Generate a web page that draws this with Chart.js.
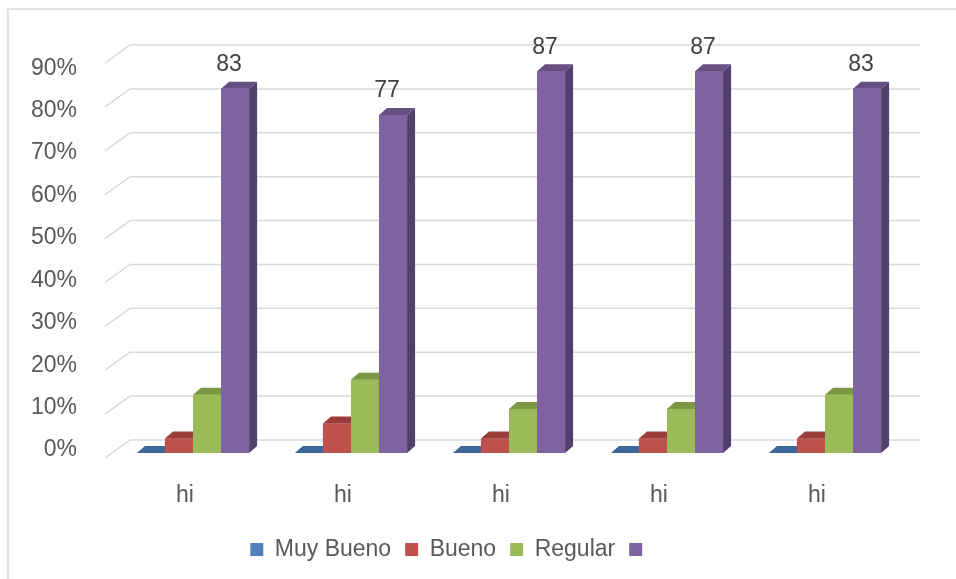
<!DOCTYPE html>
<html>
<head>
<meta charset="utf-8">
<title>Resultados</title>
<script src="https://cdn.jsdelivr.net/npm/chart.js@4.4.1/dist/chart.umd.min.js"></script>
<style>
  html, body { margin: 0; padding: 0; background: #fff; }
  #wrap { width: 956px; height: 579px; position: relative; }
</style>
</head>
<body>
<div id="wrap"><canvas id="chart"></canvas></div>
<script>
const categories = ["hi", "hi", "hi", "hi", "hi"];
const seriesNames = ["Muy Bueno", "Bueno", "Regular", ""];
const muyBueno = [0, 0, 0, 0, 0];
const bueno = [3.3, 6.7, 3.3, 3.3, 3.3];
const regular = [13.3, 16.7, 10, 10, 13.3];
const otros = [83, 77, 87, 87, 83];
const yTicks = [0, 10, 20, 30, 40, 50, 60, 70, 80, 90];

// fake 3D: depth of each bar, and where the walls sit relative to the bar plane
const BAR_DX = 8, BAR_DY = -7;
const BACK_DX = 16, BACK_DY = -13;
const FRONT_DX = -9, FRONT_DY = 5;

Chart.defaults.font.family = "'Liberation Sans', Arial, sans-serif";
Chart.defaults.font.size = 23;
Chart.defaults.color = "#595959";

const wallsPlugin = {
    id: "walls",
    beforeDraw(chart) {
        const ctx = chart.ctx;
        ctx.save();
        ctx.fillStyle = "#ffffff";
        ctx.fillRect(0, 0, chart.width, chart.height);
        // outer frame, runs off the right and bottom edges
        ctx.strokeStyle = "#d9d9d9";
        ctx.lineWidth = 1.5;
        ctx.beginPath();
        ctx.moveTo(8, chart.height + 5);
        ctx.lineTo(8, 9);
        ctx.lineTo(chart.width + 5, 9);
        ctx.stroke();
        ctx.restore();
    },
    beforeDatasetsDraw(chart) {
        const { ctx, chartArea } = chart;
        const y = chart.scales.y;
        ctx.save();
        ctx.strokeStyle = "#d9d9d9";
        ctx.lineWidth = 1.5;
        yTicks.forEach(v => {
            const py = y.getPixelForValue(v);
            ctx.beginPath();
            ctx.moveTo(chartArea.left + FRONT_DX, py + FRONT_DY);
            ctx.lineTo(chartArea.left + BACK_DX, py + BACK_DY);
            ctx.lineTo(chartArea.right + BACK_DX, py + BACK_DY);
            ctx.stroke();
        });
        ctx.restore();
    }
};

const bars3dPlugin = {
    id: "bars3d",
    afterDatasetsDraw(chart) {
        const ctx = chart.ctx;
        const datasets = chart.data.datasets;
        ctx.save();
        // paint group by group, left to right, so each bar hides the side of the one before
        for (let i = 0; i < categories.length; i++) {
            datasets.forEach((ds, d) => {
                const bar = chart.getDatasetMeta(d).data[i];
                const { x, y, base, width } = bar.getProps(["x", "y", "base", "width"], true);
                const l = x - width / 2, r = x + width / 2;
                const t = Math.min(y, base), b = Math.max(y, base);

                ctx.fillStyle = ds.backgroundColor;
                ctx.fillRect(l, t, width, b - t);

                ctx.fillStyle = ds.sideColor;
                ctx.beginPath();
                ctx.moveTo(r, t);
                ctx.lineTo(r + BAR_DX, t + BAR_DY);
                ctx.lineTo(r + BAR_DX, b + BAR_DY);
                ctx.lineTo(r, b);
                ctx.closePath();
                ctx.fill();

                ctx.fillStyle = ds.topColor;
                ctx.beginPath();
                ctx.moveTo(l, t);
                ctx.lineTo(l + BAR_DX, t + BAR_DY);
                ctx.lineTo(r + BAR_DX, t + BAR_DY);
                ctx.lineTo(r, t);
                ctx.closePath();
                ctx.fill();
            });
        }

        // value labels
        ctx.fillStyle = "#404040";
        ctx.font = "23px 'Liberation Sans', Arial, sans-serif";
        ctx.textAlign = "center";
        ctx.textBaseline = "middle";
        datasets.forEach((ds, d) => {
            if (!ds.showValues) return;
            chart.getDatasetMeta(d).data.forEach((bar, i) => {
                ctx.fillText(String(ds.data[i]), bar.x - 6, bar.y - 24);
            });
        });
        ctx.restore();
    }
};

new Chart(document.getElementById("chart"), {
    type: "bar",
    data: {
        labels: categories,
        datasets: [
            { label: seriesNames[0], data: muyBueno, backgroundColor: "#4f81bd", topColor: "#3d6699", sideColor: "#35577f" },
            { label: seriesNames[1], data: bueno, backgroundColor: "#c0504d", topColor: "#9b3d3a", sideColor: "#843533" },
            { label: seriesNames[2], data: regular, backgroundColor: "#9bbb59", topColor: "#7b9744", sideColor: "#68803a" },
            { label: seriesNames[3], data: otros, backgroundColor: "#8064a2", topColor: "#654f83", sideColor: "#523f6c", showValues: true }
        ]
    },
    options: {
        responsive: true,
        maintainAspectRatio: false,
        animation: false,
        layout: { padding: { left: 0, right: 52, top: 58, bottom: 8 } },
        datasets: {
            bar: { barPercentage: 1, categoryPercentage: 0.71, borderWidth: 0 }
        },
        scales: {
            x: {
                grid: { display: false, drawTicks: false },
                border: { display: false },
                ticks: { padding: 29, labelOffset: -8, color: "#595959" },
                afterFit(axis) { axis.height = 71; }
            },
            y: {
                display: false,
                min: 0,
                max: 90
            },
            yl: {
                position: "left",
                min: -0.7,
                max: 92.4,
                grid: { display: false, drawTicks: false },
                border: { display: false },
                ticks: {
                    padding: 37,
                    color: "#595959",
                    callback: v => v + "%"
                },
                afterBuildTicks(axis) {
                    axis.ticks = yTicks.map(v => ({ value: v }));
                },
                afterFit(axis) { axis.width = 114; }
            }
        },
        plugins: {
            legend: {
                position: "bottom",
                labels: {
                    boxWidth: 13,
                    boxHeight: 13,
                    padding: 14,
                    color: "#595959",
                    font: { size: 23 }
                }
            },
            tooltip: { enabled: false }
        }
    },
    plugins: [wallsPlugin, bars3dPlugin]
});
</script>
</body>
</html>
